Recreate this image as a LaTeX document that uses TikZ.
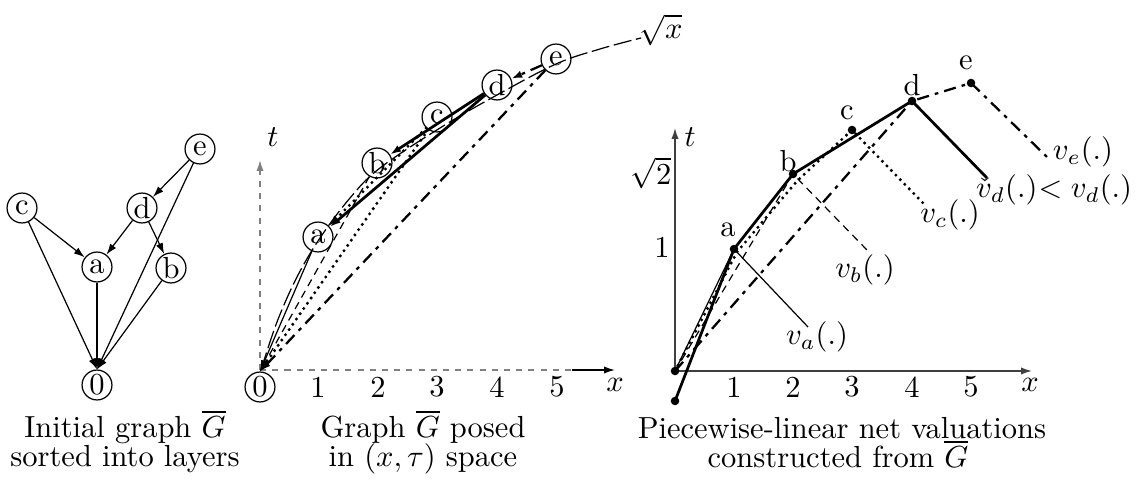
\documentclass[tikz,border=0pt]{standalone}
\usetikzlibrary{arrows.meta}
\begin{document}
\begin{tikzpicture}[x=0.3279pt,y=-0.3279pt,
  nd/.style={circle,draw,line width=0.4pt,minimum size=9.8pt,inner sep=0pt},
  tip/.style={-{Latex[length=3.6pt,width=2.4pt]}},
  ea/.style={line width=0.4pt},
  eb/.style={line width=0.4pt,dash pattern=on 2.5pt off 1.8pt},
  ec/.style={line width=1.1pt,line cap=round,dash pattern=on 0pt off 2.1pt},
  ed/.style={line width=0.9pt},
  ee/.style={line width=0.75pt,dash pattern=on 4pt off 2pt on 1.2pt off 2pt},
  sq/.style={line width=0.4pt,dash pattern=on 6pt off 1.5pt},
  dotn/.style={circle,fill,inner sep=0pt,minimum size=2.8pt},
  lab/.style={inner sep=0pt},
  maxis/.style={gray,line width=0.5pt,dash pattern=on 2pt off 2pt},
  raxis/.style={black!75,line width=0.5pt}]
\useasboundingbox (0,0) rectangle (1141,483);

% ---------- left panel ----------
\node[nd] (lc) at (22,208) {c};
\node[nd] (ld) at (142,208) {d};
\node[nd] (le) at (200,149) {e};
\node[nd] (la) at (97,267) {a};
\node[nd] (lb) at (171,268) {b};
\node[nd] (lz) at (97,385) {0};
\draw[ea,tip] (lc) -- (la);
\draw[ea,tip] (lc) -- (lz.north);
\draw[ea,tip] (ld) -- (la);
\draw[ea,tip] (ld) -- (lb);
\draw[ea,tip] (le) -- (ld);
\draw[ea,tip] (le) -- (lz.north);
\draw[ea,tip] (lb) -- (lz.north);
\draw[ea,tip] (la) -- (lz.north);
\node[lab,anchor=base] (cap1a) at (125,437) {Initial graph $\overline{G}$};
\node[lab,anchor=base] (cap1b) at (125,466) {sorted into layers};

% ---------- middle panel ----------
\coordinate (mO) at (260,370);
\coordinate (mT) at (260,160);
\coordinate (mX1) at (572,370);
\coordinate (mX2) at (615,370);
\draw[maxis,-{Latex[length=3.6pt,width=2.4pt]}] (mO) -- (mT);
\draw[maxis] (mO) -- (mX1);
\draw[line width=0.5pt,-{Latex[length=3.6pt,width=2.4pt]}] (mX1) -- (mX2);
\node[lab] (mt) at (273,137) {$t$};
\node[lab] (mx) at (615,385) {$x$};
\node[lab] (m1) at (318,387) {1};
\node[lab] (m2) at (378,387) {2};
\node[lab] (m3) at (437,387) {3};
\node[lab] (m4) at (497,387) {4};
\node[lab] (m5) at (557,387) {5};

\node[nd] (mz) at (260,387) {0};
\node[nd] (ma) at (318,237) {a};
\node[nd] (mb) at (377,163) {b};
\node[nd] (mc) at (437,117) {c};
\node[nd] (md) at (497,85) {d};
\node[nd] (me) at (556,59) {e};

\draw[sq] plot[smooth,tension=0.6] coordinates {(261,370) (277,322) (297,277) (320,238) (350,198) (380,168) (440,128) (497,95) (556,64) (600,49) (641,38)};
\node[lab] (msq) at (661,30) {$\sqrt{x}$};

\draw[ea,tip] (ma) -- (mz.north);
\draw[eb,tip] (mb) -- (mz.north);
\draw[ec,tip] (mc) -- (ma);
\draw[ec,tip] (mc) -- (mz.north);
\draw[ed,tip] (md) -- (ma);
\draw[ed,tip] (md) -- (mb);
\draw[ee,tip] (me) -- (md);
\draw[ee,tip] (me) -- (mz.north);

\node[lab,anchor=base] (cap2a) at (423,437) {Graph $\overline{G}$ posed};
\node[lab,anchor=base] (cap2b) at (423,466) {in $(x,\tau)$ space};

% ---------- right panel ----------
\coordinate (rO) at (675,371);
\coordinate (rT) at (675,128);
\coordinate (rX) at (1032,371);
\draw[raxis,-{Latex[length=3.6pt,width=2.4pt]}] (rO) -- (rT);
\draw[raxis,-{Latex[length=3.6pt,width=2.4pt]}] (rO) -- (rX);
\node[lab] (rt) at (690,137) {$t$};
\node[lab] (rx) at (1030,385) {$x$};
\node[lab] (r1) at (734,387) {1};
\node[lab] (r2) at (793,387) {2};
\node[lab] (r3) at (852,387) {3};
\node[lab] (r4) at (912,387) {4};
\node[lab] (r5) at (971,387) {5};
\node[lab] (rs2) at (651,173) {$\sqrt{2}$};
\node[lab] (rone) at (662,247) {1};

\node[dotn] (rL) at (675,401) {};
\node[dotn] (rOd) at (675,371) {};
\node[dotn] (ra) at (734,249) {};
\node[dotn] (rb) at (793,174) {};
\node[dotn] (rc) at (852,130) {};
\node[dotn] (rd) at (912,101) {};
\node[dotn] (re) at (971,83) {};
\node[lab] (rla) at (728,230) {a};
\node[lab] (rlb) at (788,161) {b};
\node[lab] (rlc) at (847,113) {c};
\node[lab] (rld) at (912,85) {d};
\node[lab] (rle) at (966,63) {e};

\coordinate (rva) at (808,327);
\coordinate (rvb) at (867,250);
\coordinate (rvc1) at (737,252);
\coordinate (rvc2) at (797,181);
\coordinate (rvc) at (923,203);
\coordinate (rvd) at (987,178);
\coordinate (rve) at (1047,157);

% v_a
\draw[ea] (rOd.center) -- (ra.center) -- (rva);
% v_b
\draw[eb] (rOd.center) -- (rb.center) -- (rvb);
% v_c
\draw[ec] (rOd.center) -- (rvc1) -- (rvc2) -- (rc.center) -- (rvc);
% v_d
\draw[ed] (rL.center) -- (ra.center) -- (rb.center) -- (rd.center) -- (rvd);
% v_e
\draw[ee] (rOd.center) -- (rd.center) -- (re.center) -- (rve);

\node[lab] (lva) at (817,337) {$v_a(.)$};
\node[lab] (lvb) at (865,270) {$v_b(.)$};
\node[lab] (lvc) at (950,215) {$v_c(.)$};
\node[lab] (lve) at (1083,152) {$v_e(.)$};
\node[lab,anchor=east] (lvd1) at (1038,190) {$\check{v}_d(.)$};
\node[lab,anchor=west] (lvd2) at (1038,190) {$<v_d(.)$};

\node[lab,anchor=base] (cap3a) at (842,438) {Piecewise-linear net valuations};
\node[lab,anchor=base] (cap3b) at (838,467) {constructed from $\overline{G}$};
\end{tikzpicture}
\end{document}
